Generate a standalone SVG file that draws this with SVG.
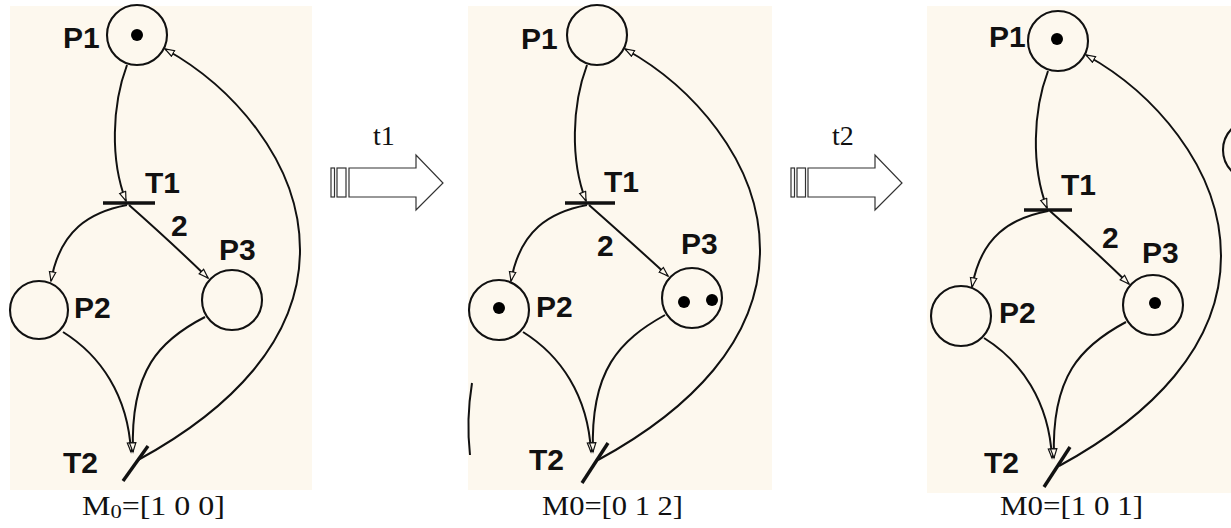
<svg xmlns="http://www.w3.org/2000/svg" width="1231" height="528" viewBox="0 0 1231 528">
  <style>
    .panel { fill: #fdf8ee; }
    .place { fill: none; stroke: #111; stroke-width: 2.1; }
    .bar { stroke: #111; stroke-width: 3.4; stroke-linecap: butt; }
    .arc { fill: none; stroke: #111; stroke-width: 2; }
    .arc-in { marker-end: url(#hollow); }
    .token { fill: #000; filter: url(#soft); }
    .lbl { font-family: "Liberation Sans", Arial, sans-serif; font-weight: bold; font-size: 30px; fill: #111; }
    .cap { font-family: "Liberation Serif", "Times New Roman", serif; font-size: 27px; fill: #111; }
    .step { font-family: "Liberation Serif", "Times New Roman", serif; font-size: 28px; fill: #111; }
    .fire { fill: #fff; stroke: #333; stroke-width: 1.2; }
  </style>
  <defs>
    <marker id="hollow" markerUnits="userSpaceOnUse" markerWidth="12" markerHeight="10" refX="10" refY="4" orient="auto">
      <path d="M0.8,0.8 L10,4 L0.8,7.2 Z" fill="#fdf8ee" stroke="#111" stroke-width="1.2"/>
    </marker>
    <filter id="soft" x="-50%" y="-50%" width="200%" height="200%">
      <feGaussianBlur stdDeviation="0.7"/>
    </filter>
  </defs>

  <rect width="1231" height="528" fill="#fff"/>
  <rect class="panel" x="10" y="6" width="302" height="484"/>
  <rect class="panel" x="468" y="6" width="304" height="484"/>
  <rect class="panel" x="927" y="6" width="304" height="487"/>

  <!-- marking 1 -->
  <g id="net1">
    <g id="net1-arcs">
      <path class="arc arc-in" d="M127,65 C112,105 110,160 126,201"/>
      <path class="arc arc-in" d="M127,205 C90,212 60,230 51,281"/>
      <path class="arc arc-in" d="M129,205 Q172,243 208,278"/>
      <path class="arc arc-in" d="M63,332 C100,355 128,395 131,452"/>
      <path class="arc arc-in" d="M205,317 C160,340 130,370 133,452"/>
      <path class="arc arc-in" d="M138,460 C230,410 300,340 300,250 C300,160 230,85 165,49"/>
    </g>
    <g id="net1-P1"><circle class="place" cx="137" cy="35" r="30"/><circle class="token" cx="137" cy="35" r="6"/><text class="lbl" x="63" y="48">P1</text></g>
    <g id="net1-T1"><line class="bar" x1="103" y1="203" x2="155" y2="203"/><text class="lbl" x="145" y="193">T1</text></g>
    <g id="net1-P2"><circle class="place" cx="39" cy="310" r="29"/><text class="lbl" x="74" y="318">P2</text></g>
    <g id="net1-P3"><circle class="place" cx="232" cy="300" r="30"/><text class="lbl" x="219" y="260">P3</text></g>
    <g id="net1-T2"><line class="bar" x1="123" y1="481" x2="148" y2="446"/><text class="lbl" x="63" y="473">T2</text></g>
    <text class="lbl" x="171" y="236">2</text>
    <text class="cap" x="82" y="515" textLength="143" lengthAdjust="spacingAndGlyphs">M<tspan font-size="19" dy="3">0</tspan><tspan dy="-3">=[1 0 0]</tspan></text>
  </g>

  <!-- firing t1 -->
  <g id="fire-t1">
    <rect class="fire" x="331" y="168" width="3.5" height="29"/>
    <rect class="fire" x="337" y="168" width="9" height="29"/>
    <path class="fire" d="M349,168 L416,168 L416,155 L443,183 L416,210 L416,197 L349,197 Z"/>
    <text class="step" x="373" y="145">t1</text>
  </g>

  <!-- marking 2 -->
  <g id="net2" transform="translate(460,0)">
    <g id="net2-arcs">
      <path class="arc arc-in" d="M127,65 C112,105 110,160 126,201"/>
      <path class="arc arc-in" d="M127,205 C90,212 60,230 51,281"/>
      <path class="arc arc-in" d="M129,205 Q172,243 208,276"/>
      <path class="arc arc-in" d="M63,332 C100,355 128,395 131,452"/>
      <path class="arc arc-in" d="M205,315 C160,340 130,370 133,452"/>
      <path class="arc arc-in" d="M138,460 C230,410 300,340 300,250 C300,160 230,85 165,49"/>
    </g>
    <g id="net2-P1"><circle class="place" cx="137" cy="35" r="30"/><text class="lbl" x="61" y="49">P1</text></g>
    <g id="net2-T1"><line class="bar" x1="105" y1="203" x2="155" y2="203"/><text class="lbl" x="144" y="192">T1</text></g>
    <g id="net2-P2"><circle class="place" cx="39" cy="310" r="30"/><circle class="token" cx="39" cy="308" r="6"/><text class="lbl" x="76" y="317">P2</text></g>
    <g id="net2-P3"><circle class="place" cx="232" cy="298" r="30"/><circle class="token" cx="224" cy="302" r="6"/><circle class="token" cx="252" cy="300" r="6"/><text class="lbl" x="221" y="254">P3</text></g>
    <g id="net2-T2"><line class="bar" x1="122" y1="483" x2="148" y2="443"/><text class="lbl" x="69" y="470">T2</text></g>
    <text class="lbl" x="137" y="256">2</text>
    <path class="arc" d="M12,383 Q6,420 10,455"/>
  </g>
  <text class="cap" x="542" y="515" textLength="141" lengthAdjust="spacingAndGlyphs">M0=[0 1 2]</text>

  <!-- firing t2 -->
  <g id="fire-t2">
    <rect class="fire" x="791" y="168" width="3.5" height="29"/>
    <rect class="fire" x="797" y="168" width="8.5" height="29"/>
    <path class="fire" d="M808,168 L875,168 L875,155 L902,183 L875,210 L875,197 L808,197 Z"/>
    <text class="step" x="832" y="145">t2</text>
  </g>

  <!-- marking 3 -->
  <g id="net3" transform="translate(921,6)">
    <g id="net3-arcs">
      <path class="arc arc-in" d="M127,65 C112,105 110,160 126,202"/>
      <path class="arc arc-in" d="M127,205 C90,212 60,230 51,281"/>
      <path class="arc arc-in" d="M129,205 Q172,243 208,278"/>
      <path class="arc arc-in" d="M63,332 C100,355 128,395 131,452"/>
      <path class="arc arc-in" d="M205,316 C160,340 130,370 133,452"/>
      <path class="arc arc-in" d="M138,460 C230,410 300,340 300,250 C300,160 230,85 165,49"/>
    </g>
    <g id="net3-P1"><circle class="place" cx="137" cy="35" r="30"/><circle class="token" cx="136" cy="33" r="6"/><text class="lbl" x="68" y="41">P1</text></g>
    <g id="net3-T1"><line class="bar" x1="103" y1="204" x2="151" y2="204"/><text class="lbl" x="140" y="189">T1</text></g>
    <g id="net3-P2"><circle class="place" cx="40" cy="310" r="30"/><text class="lbl" x="78" y="317">P2</text></g>
    <g id="net3-P3"><circle class="place" cx="232" cy="299" r="30"/><circle class="token" cx="234" cy="297" r="6"/><text class="lbl" x="221" y="257">P3</text></g>
    <g id="net3-T2"><line class="bar" x1="123" y1="481" x2="149" y2="441"/><text class="lbl" x="63" y="467">T2</text></g>
    <text class="lbl" x="181" y="242">2</text>
    <circle class="place" cx="332" cy="144" r="30"/>
  </g>
  <text class="cap" x="1000" y="515" textLength="143" lengthAdjust="spacingAndGlyphs">M0=[1 0 1]</text>
</svg>
